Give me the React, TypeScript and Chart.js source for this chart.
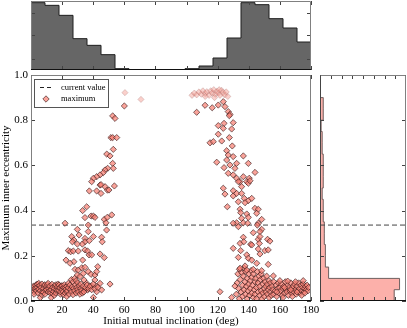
import React, { useEffect, useRef } from 'react';
import { Chart, registerables } from 'chart.js';

Chart.register(...registerables);

const W = 407;
const H = 328;
const FONT = 'Liberation Serif';

// ---------- main scatter ----------
const INC_TICKS = [0, 20, 40, 60, 80, 100, 120, 140, 160, 180];
const ECC_TICKS = [0, 0.2, 0.4, 0.6, 0.8, 1.0];
const CURRENT_ECC = 0.336;

// [inclination deg, max inner eccentricity]
const LEFT_CLUSTER: [number, number][] = [
  [0.5,0.06],[1,0.05],[1.5,0.065],[2,0.04],[2,0.03],[2.5,0.055],[3,0.07],[3,0.058],[3.5,0.045],[4,0.06],
  [4,0.075],[4.5,0.035],[5,0.052],[5,0.078],[5.5,0.068],[6,0.045],[6,0.015],[6.5,0.06],[7,0.075],[7,0.028],
  [7.5,0.04],[8,0.055],[8,0.038],[8.5,0.068],[9,0.03],[9,0.072],[9.5,0.048],[10,0.062],[10,0.05],[10.5,0.072],
  [11,0.04],[11,0.078],[11.5,0.055],[12,0.066],[12,0.045],[12.5,0.035],[13,0.05],[13,0.015],[13.5,0.074],[14,0.06],
  [14,0.032],[14.5,0.042],[15,0.055],[15,0.025],[15.5,0.068],[16,0.035],[16,0.072],[16.5,0.05],[17,0.062],[17,0.045],
  [17.5,0.075],[18,0.045],[18,0.07],[18.5,0.058],[19,0.03],[19,0.04],[19.5,0.066],[20,0.05],[20,0.068],[20.5,0.04],
  [21,0.06],[21,0.028],[21.5,0.072],[22,0.035],[22,0.06],[22.5,0.052],[23,0.065],[23,0.04],[23,0.02],[23.5,0.045],
  [24,0.058],[24,0.078],[24.5,0.03],[25,0.07],[25.5,0.05],[26,0.04],[26,0.095],[26.5,0.062],[27,0.085],[27,0.028],
  [27.5,0.055],[28,0.045],[28,0.1],[28.5,0.072],[29,0.035],[29,0.09],[29.5,0.06],[30,0.05],[30,0.08],[30.5,0.04],
  [31,0.068],[31.5,0.03],[32,0.055],[32,0.075],[32.5,0.045],[33,0.035],[33.5,0.065],[34,0.04],[35,0.06],[36,0.07],
  [37,0.055],[38,0.065],[39,0.05],[40,0.075],[41,0.055],[43,0.06],
];

const LEFT_ARM: [number, number][] = [
  [60,0.863],[52.5,0.819],[54,0.808],[51.4,0.723],[52.5,0.723],[55.1,0.723],[52.9,0.671],[48.7,0.65],[50.8,0.642],
  [52.5,0.609],[52.9,0.587],[49.3,0.587],[47.6,0.58],[46.5,0.568],[44.4,0.558],[42.2,0.55],[40.1,0.543],[39,0.528],
  [44.4,0.513],[47.6,0.506],[49.1,0.491],[53.6,0.509],[37.5,0.487],[42.2,0.487],[45,0.476],[45,0.515],[50.1,0.491],
  [35.8,0.417],[33.2,0.4],[34.7,0.369],[38.6,0.376],[40.1,0.376],[41.1,0.37],[51.9,0.381],[47.1,0.361],[48.2,0.346],
  [29.8,0.317],[36.8,0.336],[21.9,0.344],[48.6,0.314],[36.8,0.307],[49,0.37],
  [45.4,0.282],[45.8,0.262],[26.2,0.285],[27.6,0.27],[34.7,0.277],[34.7,0.262],[33,0.252],[37.5,0.267],[30.9,0.292],
  [26.6,0.262],[29.8,0.252],[24,0.223],[25.5,0.218],[27.2,0.221],[30.4,0.221],[34.7,0.226],[36.4,0.221],[37.3,0.204],
  [40.1,0.285],[44.4,0.208],[39,0.204],
  [22.5,0.181],[27.6,0.174],[33.2,0.181],[47.1,0.192],[25.1,0.167],[28.3,0.14],[30.4,0.137],[32.6,0.147],[34.7,0.149],
  [33.6,0.122],[36.8,0.13],[38.6,0.118],[41.1,0.115],[42.9,0.152],[42.2,0.13],[29.8,0.115],[31.5,0.108],
  [50.8,0.075],[45.4,0.049],[42.2,0.041],[40.1,0.016],[34.1,0.093],[35.8,0.078],[39,0.066],[41.1,0.093],[42.2,0.066],
  [44.4,0.078],[36.4,0.049],[34.3,0.049],
];

const RIGHT_ARM: [number, number][] = [
  [106.5,0.835],[111.9,0.866],[116.5,0.855],[120.4,0.867],[123.6,0.882],[124.7,0.86],[126.8,0.838],[127.9,0.826],[127.5,0.82],
  [120.4,0.776],[123.6,0.764],[130,0.789],[124.1,0.786],[129,0.761],[120.4,0.738],[115.1,0.7],[117.2,0.705],[122.6,0.708],[127.5,0.723],
  [129.4,0.686],[125.8,0.665],[126.8,0.646],[130,0.639],[125.8,0.624],[136.5,0.642],[119.4,0.614],[127.9,0.602],[139.7,0.609],[132.2,0.609],
  [124.1,0.59],[131.1,0.587],[144,0.569],[126.8,0.565],[130,0.558],[132.2,0.543],[136.5,0.55],[140.3,0.543],[134.4,0.528],
  [138.7,0.528],[133.3,0.528],[139.7,0.521],[140.8,0.532],[135.4,0.506],
  [123.6,0.499],[124.7,0.473],[130,0.488],[130,0.465],[132.2,0.476],[135.4,0.476],[133.3,0.439],[137.1,0.454],[139.7,0.444],
  [141.9,0.454],[137.6,0.435],[126.2,0.417],[134.4,0.406],[144,0.41],[146.1,0.406],
  [134.8,0.391],[138.7,0.385],[139.7,0.37],[135.4,0.366],[132.2,0.346],[130,0.344],[133.3,0.329],[136.5,0.346],[139.3,0.344],
  [145.1,0.388],[148.3,0.361],[146.1,0.344],[145.5,0.336],[148.3,0.317],[147.2,0.307],
  [136.5,0.282],[134.4,0.255],[136.8,0.262],[141.2,0.251],[142.9,0.302],[146.1,0.273],[146.8,0.255],[147.2,0.285],[152.1,0.273],
  [153.6,0.265],[130,0.233],[134.8,0.223],[141.9,0.248],[146.1,0.23],[150.4,0.223],[152.5,0.226],[147.2,0.208],[138.7,0.204],
  [133.3,0.193],[139.7,0.189],[141.9,0.181],[145.1,0.167],[152.5,0.162],[134.4,0.145],[137.6,0.155],[138.7,0.137],[142.9,0.14],
  [148.3,0.134],[155.8,0.111],[121.5,0.041],[129,0.016],[131.1,0.066],
];

const RIGHT_CLUSTER: [number, number][] = [
  [132,0.03],[132.5,0.08],[133,0.12],[133.5,0.055],[134,0.01],[134,0.14],[134.5,0.095],[135,0.04],[135.5,0.125],[136,0.07],
  [136,0.02],[136.5,0.11],[137,0.05],[137,0.145],[137.5,0.085],[138,0.03],[138,0.13],[138.5,0.065],[139,0.1],[139,0.01],
  [139.5,0.045],[140,0.12],[140,0.075],[140.5,0.025],[141,0.09],[141,0.055],[141.5,0.135],[142,0.035],[142,0.105],[142.5,0.07],
  [143,0.015],[143,0.12],[143.5,0.05],[144,0.085],[144,0.03],[144.5,0.1],[145,0.06],[145,0.01],[145.5,0.13],[146,0.04],
  [146,0.08],[146.5,0.11],[147,0.025],[147,0.065],[147.5,0.095],[148,0.045],[148,0.12],[148.5,0.01],[149,0.075],[149,0.035],
  [149.5,0.1],[150,0.055],[150,0.02],[150.5,0.085],[151,0.04],[151,0.065],[151.5,0.11],[152,0.03],[152,0.075],[152.5,0.05],
  [153,0.09],[153,0.015],[153.5,0.06],[154,0.04],[154,0.08],[154.5,0.025],[155,0.065],[155.5,0.05],[156,0.085],[156,0.03],
  [157,0.045],[157.5,0.07],[158,0.02],[158.5,0.055],[159,0.08],[159.5,0.035],[160,0.06],[160.5,0.045],[161,0.075],[161.5,0.025],
  [162,0.055],[162.5,0.065],[163,0.035],[163.5,0.085],[164,0.05],[164.5,0.04],[165,0.07],[165.5,0.025],[166,0.06],[166.5,0.045],
  [167,0.08],[167.5,0.035],[168,0.055],[168.5,0.065],[169,0.04],[169.5,0.075],[170,0.05],[170.5,0.03],[171,0.065],[171.5,0.045],
  [172,0.08],[172.5,0.055],[173,0.035],[173.5,0.07],[174,0.045],[174.5,0.06],[175,0.075],[175.5,0.04],[176,0.055],[176.5,0.065],
  [177,0.05],[177.5,0.07],[178,0.045],[178.5,0.06],[160,0.09],[165,0.088],[170,0.085],[175,0.09],[162,0.015],[168,0.02],
  [174,0.025],[158,0.04],[163,0.06],[167,0.05],[171,0.04],[176,0.035],
];

const FADED_TOP: [number, number][] = [
  [60.4,0.922],[70.7,0.892],[103.5,0.91],[105,0.92],[106.5,0.912],[108,0.925],[109.5,0.915],[110.5,0.93],[112,0.918],
  [113,0.926],[114.5,0.91],[115.5,0.93],[116.5,0.92],[117.5,0.935],[118.5,0.915],[119.5,0.928],[120.5,0.92],[121.5,0.91],
  [122.5,0.932],[123.5,0.922],[124.5,0.912],[125.5,0.925],[126.5,0.905],[118,0.9],[112,0.905],[121,0.935],
];

// ---------- top histogram (inclination) ----------
const INC_BIN_STARTS = [0, 9, 18, 27, 36, 45, 54, 63, 72, 81, 90, 99, 108, 117, 126, 135, 144, 153, 162, 171];
const INC_BIN_WIDTH = 9;
const INC_COUNTS = [101, 97, 82, 47, 37, 23, 2, 0, 0, 0, 0, 2, 6, 18, 48, 101, 98, 77, 63, 42];
const INC_COUNT_MAX = 103.5;
const INC_COUNT_TICKS = [17, 52, 86];

// ---------- right histogram (eccentricity) ----------
const ECC_BIN_STARTS = [0, 0.05, 0.1, 0.15, 0.2, 0.25, 0.3, 0.35, 0.4, 0.45, 0.5, 0.55, 0.6, 0.65, 0.7, 0.75, 0.8, 0.85, 0.9, 0.95];
const ECC_BIN_WIDTH = 0.05;
const ECC_COUNTS = [69, 74, 8, 5, 5, 4, 4, 3, 3, 2, 3, 3, 3, 2, 2, 1, 3, 3, 0, 0];
const ECC_COUNT_MAX = 80;
const ECC_COUNT_TICKS = [10, 20, 30, 40, 50, 60, 70];

const toPts = (arr: [number, number][]) => arr.map(([x, y]) => ({ x, y }));

function framePlugin(o: { xTicks: number[]; yTicks: number[]; side: string; bottom: string; left?: string }) {
  return {
    id: 'frameTicks',
    afterDatasetsDraw(chart: any) {
      const { ctx, chartArea: a, scales } = chart;
      const xs = scales.x;
      const ys = scales.y;
      const L = 4;
      ctx.save();
      ctx.lineWidth = 1;
      ctx.strokeStyle = '#444';
      ctx.beginPath();
      for (const v of o.xTicks) {
        const p = Math.round(xs.getPixelForValue(v)) + 0.5;
        ctx.moveTo(p, a.bottom);
        ctx.lineTo(p, a.bottom - L);
        ctx.moveTo(p, a.top);
        ctx.lineTo(p, a.top + L);
      }
      for (const v of o.yTicks) {
        const p = Math.round(ys.getPixelForValue(v)) + 0.5;
        ctx.moveTo(a.left, p);
        ctx.lineTo(a.left + L, p);
        ctx.moveTo(a.right, p);
        ctx.lineTo(a.right - L, p);
      }
      ctx.stroke();
      const l = Math.round(a.left) + 0.5;
      const r = Math.round(a.right) - 0.5;
      const t = Math.round(a.top) + 0.5;
      const b = Math.round(a.bottom) - 0.5;
      ctx.strokeStyle = o.side;
      ctx.beginPath();
      ctx.moveTo(r, b);
      ctx.lineTo(r, t);
      ctx.lineTo(l, t);
      ctx.stroke();
      ctx.strokeStyle = o.left || o.side;
      ctx.beginPath();
      ctx.moveTo(l, t);
      ctx.lineTo(l, b);
      ctx.stroke();
      ctx.strokeStyle = o.bottom;
      ctx.beginPath();
      ctx.moveTo(l - 0.5, b);
      ctx.lineTo(r + 0.5, b);
      ctx.stroke();
      ctx.restore();
    },
  };
}

const SCATTER_FILL = 'rgba(248,128,115,0.72)';
const SCATTER_EDGE = 'rgba(55,25,25,0.8)';

const legendPlugin = {
  id: 'legendBox',
  afterDraw(chart: any) {
    const { ctx, chartArea: a } = chart;
    const x0 = Math.round(a.left) + 3.5;
    const y0 = Math.round(a.top) + 4.5;
    ctx.save();
    ctx.fillStyle = '#fff';
    ctx.fillRect(x0, y0, 74, 28);
    ctx.strokeStyle = '#555';
    ctx.lineWidth = 1;
    ctx.strokeRect(x0, y0, 74, 28);
    ctx.strokeStyle = '#222';
    ctx.setLineDash([4, 3]);
    ctx.beginPath();
    ctx.moveTo(x0 + 5.5, y0 + 8);
    ctx.lineTo(x0 + 18, y0 + 8);
    ctx.stroke();
    ctx.setLineDash([]);
    const cx = x0 + 11.5;
    const cy = y0 + 19.5;
    const r = 3.2;
    ctx.beginPath();
    ctx.moveTo(cx - r, cy);
    ctx.lineTo(cx, cy - r);
    ctx.lineTo(cx + r, cy);
    ctx.lineTo(cx, cy + r);
    ctx.closePath();
    ctx.fillStyle = SCATTER_FILL;
    ctx.fill();
    ctx.strokeStyle = SCATTER_EDGE;
    ctx.lineWidth = 0.8;
    ctx.stroke();
    ctx.fillStyle = '#000';
    ctx.font = `8.5px "${FONT}"`;
    ctx.textBaseline = 'middle';
    ctx.fillText('current value', x0 + 26.5, y0 + 8);
    ctx.fillText('maximum', x0 + 26.5, y0 + 19.5);
    ctx.restore();
  },
};

function makeMain(canvas: HTMLCanvasElement) {
  const pointDs = (label: string, arr: [number, number][], fill: string, edge: string) => ({
    label,
    data: toPts(arr),
    pointStyle: 'rectRot',
    pointRadius: 3.1,
    pointBackgroundColor: fill,
    pointBorderColor: edge,
    pointBorderWidth: 0.8,
    order: 1,
  });
  const font = { family: FONT, size: 11 };
  return new Chart(canvas, {
    type: 'scatter',
    data: {
      datasets: [
        {
          type: 'line',
          label: 'current value',
          data: [{ x: 0, y: CURRENT_ECC }, { x: 180, y: CURRENT_ECC }],
          borderColor: '#444',
          borderWidth: 1,
          borderDash: [5, 3],
          pointRadius: 0,
          order: 5,
        } as any,
        pointDs('faded', FADED_TOP, 'rgba(245,150,140,0.45)', 'rgba(150,100,100,0.35)'),
        pointDs('maximum', LEFT_CLUSTER, SCATTER_FILL, SCATTER_EDGE),
        pointDs('maximum', LEFT_ARM, SCATTER_FILL, SCATTER_EDGE),
        pointDs('maximum', RIGHT_ARM, SCATTER_FILL, SCATTER_EDGE),
        pointDs('maximum', RIGHT_CLUSTER, SCATTER_FILL, SCATTER_EDGE),
      ],
    },
    options: {
      animation: false,
      responsive: false,
      devicePixelRatio: 1,
      events: [],
      layout: { padding: { left: 0, top: 75, right: 96, bottom: 0 } },
      plugins: { legend: { display: false }, tooltip: { enabled: false } },
      scales: {
        x: {
          type: 'linear',
          min: 0,
          max: 180,
          afterFit: (s: any) => { s.height = 27; },
          grid: { display: false, drawTicks: false, tickLength: 0 },
          border: { display: false },
          ticks: { stepSize: 20, padding: 3, color: '#000', font, maxRotation: 0, autoSkip: false },
          title: { display: true, text: 'Initial mutual inclination (deg)', color: '#000', font, padding: { top: 0, bottom: 0 } },
        },
        y: {
          type: 'linear',
          min: 0,
          max: 1,
          afterFit: (s: any) => { s.width = 31; },
          grid: { display: false, drawTicks: false, tickLength: 0 },
          border: { display: false },
          ticks: { stepSize: 0.2, padding: 3, color: '#000', font, callback: (v: any) => Number(v).toFixed(1) },
          title: { display: true, text: 'Maximum inner eccentricity', color: '#000', font, padding: { top: 0, bottom: 0 } },
        },
      },
    } as any,
    plugins: [framePlugin({ xTicks: INC_TICKS, yTicks: ECC_TICKS, side: '#808080', bottom: '#111' }), legendPlugin],
  });
}

function makeTop(canvas: HTMLCanvasElement) {
  const pts: { x: number; y: number }[] = [{ x: INC_BIN_STARTS[0], y: 0 }];
  INC_BIN_STARTS.forEach((s, i) => pts.push({ x: s, y: INC_COUNTS[i] }));
  const last = INC_BIN_STARTS[INC_BIN_STARTS.length - 1] + INC_BIN_WIDTH;
  pts.push({ x: last, y: 0 });
  return new Chart(canvas, {
    type: 'line',
    data: {
      datasets: [
        {
          data: pts,
          stepped: 'before',
          fill: 'origin',
          backgroundColor: 'rgb(102,102,102)',
          borderColor: 'rgb(30,30,30)',
          borderWidth: 1,
          pointRadius: 0,
        } as any,
      ],
    },
    options: {
      animation: false,
      responsive: false,
      devicePixelRatio: 1,
      events: [],
      layout: { padding: { left: 31, top: 1, right: 96, bottom: 258 } },
      plugins: { legend: { display: false }, tooltip: { enabled: false } },
      scales: {
        x: { type: 'linear', min: 0, max: 180, display: false },
        y: { type: 'linear', min: 0, max: INC_COUNT_MAX, display: false },
      },
    } as any,
    plugins: [framePlugin({ xTicks: INC_TICKS, yTicks: INC_COUNT_TICKS, side: '#808080', bottom: '#111' })],
  });
}

function makeRight(canvas: HTMLCanvasElement) {
  const bars = ECC_BIN_STARTS.map((s, i) => ({ x: ECC_COUNTS[i], y: s + ECC_BIN_WIDTH / 2 }));
  const outline: { x: number; y: number }[] = [{ x: 0, y: ECC_BIN_STARTS[0] }];
  ECC_BIN_STARTS.forEach((s, i) => outline.push({ x: ECC_COUNTS[i], y: s }));
  outline.push({ x: 0, y: ECC_BIN_STARTS[ECC_BIN_STARTS.length - 1] + ECC_BIN_WIDTH });
  return new Chart(canvas, {
    type: 'bar',
    data: {
      datasets: [
        {
          type: 'bar',
          data: bars,
          backgroundColor: 'rgb(252,176,170)',
          borderWidth: 0,
          barPercentage: 1,
          categoryPercentage: 1,
          order: 3,
        } as any,
        {
          type: 'line',
          data: outline,
          stepped: 'after',
          fill: false,
          borderColor: 'rgb(110,100,100)',
          borderWidth: 1,
          pointRadius: 0,
          order: 2,
        } as any,
        {
          type: 'line',
          data: [{ x: 0, y: CURRENT_ECC }, { x: ECC_COUNT_MAX, y: CURRENT_ECC }],
          borderColor: '#444',
          borderWidth: 1,
          borderDash: [5, 3],
          pointRadius: 0,
          order: 1,
        } as any,
      ],
    },
    options: {
      indexAxis: 'y',
      animation: false,
      responsive: false,
      devicePixelRatio: 1,
      events: [],
      layout: { padding: { left: 320, top: 75, right: 1, bottom: 27 } },
      plugins: { legend: { display: false }, tooltip: { enabled: false } },
      scales: {
        x: { type: 'linear', min: 0, max: ECC_COUNT_MAX, display: false, offset: false },
        y: { type: 'linear', min: 0, max: 1, display: false, offset: false, grid: { offset: false } },
      },
    } as any,
    plugins: [framePlugin({ xTicks: ECC_COUNT_TICKS, yTicks: ECC_TICKS, side: '#808080', bottom: '#111', left: '#444' })],
  });
}

export default function App() {
  const mainRef = useRef<HTMLCanvasElement>(null);
  const topRef = useRef<HTMLCanvasElement>(null);
  const rightRef = useRef<HTMLCanvasElement>(null);

  useEffect(() => {
    const charts = [
      makeTop(topRef.current as HTMLCanvasElement),
      makeRight(rightRef.current as HTMLCanvasElement),
      makeMain(mainRef.current as HTMLCanvasElement),
    ];
    return () => charts.forEach((c) => c.destroy());
  }, []);

  const cs: React.CSSProperties = { position: 'absolute', left: 0, top: 0, width: W, height: H };
  return (
    <div style={{ position: 'fixed', left: 0, top: 0, width: W, height: H, background: '#fff' }}>
      <canvas ref={topRef} width={W} height={H} style={cs} />
      <canvas ref={rightRef} width={W} height={H} style={cs} />
      <canvas ref={mainRef} width={W} height={H} style={cs} />
    </div>
  );
}
